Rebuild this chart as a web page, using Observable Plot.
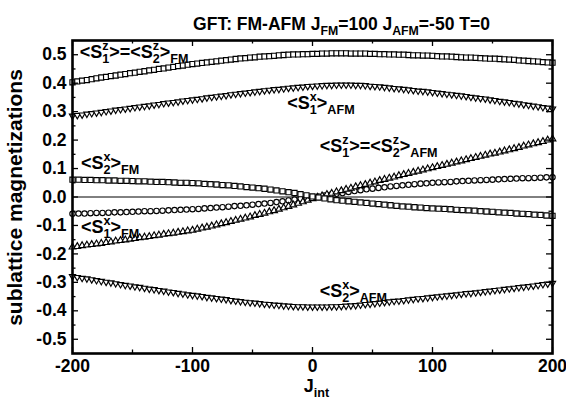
<!DOCTYPE html>
<html><head><meta charset="utf-8">
<script src="https://cdn.jsdelivr.net/npm/d3@7"></script>
<script src="https://cdn.jsdelivr.net/npm/@observablehq/plot@0.6"></script>
<style>body{margin:0;background:#fff}</style>
</head><body><div id="chart"></div>
<script>
// x grids (J_int)
const jDense = d3.range(-200, 201, 4);
const jSparse = d3.range(-200, 201, 5);

// <S1z>=<S2z>_FM (squares, top)
const szFM = [
0.403,0.406,0.409,0.411,0.414,0.417,0.420,0.422,0.425,0.427,
0.430,0.432,0.435,0.437,0.440,0.442,0.445,0.447,0.450,0.452,
0.455,0.457,0.460,0.462,0.465,0.467,0.469,0.471,0.473,0.475,
0.477,0.479,0.481,0.483,0.485,0.487,0.488,0.490,0.491,0.493,
0.494,0.495,0.496,0.498,0.499,0.500,0.501,0.501,0.502,0.502,
0.503,0.503,0.504,0.504,0.505,0.505,0.505,0.505,0.504,0.504,
0.504,0.504,0.503,0.503,0.502,0.502,0.501,0.501,0.500,0.500,
0.499,0.498,0.498,0.497,0.497,0.496,0.495,0.494,0.494,0.493,
0.492,0.491,0.490,0.490,0.489,0.488,0.487,0.486,0.486,0.485,
0.484,0.483,0.482,0.480,0.479,0.478,0.477,0.476,0.474,0.473,
0.472];
// <S1x>_AFM (triangles down, top)
const s1xAFM = [
.285,.287,.289,.292,.294,.296,.298,.301,.303,.306,
.308,.310,.312,.315,.317,.319,.321,.324,.326,.329,
.331,.333,.335,.338,.340,.342,.344,.346,.349,.351,
.353,.355,.357,.360,.362,.364,.366,.368,.370,.372,
.374,.376,.378,.379,.381,.383,.384,.386,.387,.389,
.390,.391,.392,.393,.393,.394,.394,.394,.394,.393,
.393,.392,.390,.389,.388,.386,.384,.382,.381,.379,
.377,.375,.373,.372,.370,.368,.366,.364,.362,.360,
.358,.356,.354,.351,.349,.347,.345,.342,.340,.337,
.335,.333,.330,.328,.325,.323,.320,.318,.315,.313,
.310];
// <S2x>_AFM (triangles down, bottom)
const s2xAFM = [
-.279,-.282,-.285,-.287,-.290,-.293,-.296,-.299,-.301,-.304,
-.307,-.310,-.312,-.315,-.317,-.320,-.323,-.325,-.328,-.330,
-.333,-.335,-.338,-.340,-.343,-.345,-.347,-.349,-.352,-.354,
-.356,-.358,-.360,-.363,-.365,-.367,-.369,-.371,-.372,-.374,
-.376,-.377,-.379,-.380,-.382,-.383,-.384,-.385,-.385,-.386,
-.386,-.386,-.386,-.386,-.385,-.385,-.384,-.383,-.382,-.381,
-.379,-.377,-.376,-.374,-.372,-.370,-.368,-.366,-.365,-.363,
-.361,-.359,-.357,-.356,-.354,-.352,-.350,-.348,-.347,-.345,
-.343,-.341,-.339,-.338,-.336,-.334,-.332,-.330,-.328,-.326,
-.324,-.322,-.320,-.318,-.316,-.314,-.312,-.310,-.307,-.305,
-.303];
// triangles up (<S1x>_FM / <S1z>=<S2z>_AFM)
const triUp = [
-.176,-.174,-.171,-.169,-.167,-.165,-.163,-.160,-.158,-.155,
-.153,-.151,-.148,-.146,-.143,-.141,-.139,-.136,-.134,-.131,
-.129,-.127,-.124,-.122,-.119,-.117,-.113,-.109,-.106,-.102,
-.098,-.094,-.090,-.086,-.082,-.078,-.074,-.070,-.065,-.061,
-.057,-.052,-.048,-.043,-.038,-.033,-.028,-.022,-.017,-.011,
-.006,-.001,.004,.009,.013,.018,.022,.027,.031,.036,
.040,.044,.049,.053,.058,.062,.066,.070,.075,.079,
.083,.087,.091,.095,.099,.103,.107,.111,.115,.119,
.123,.127,.131,.135,.139,.143,.147,.151,.154,.158,
.162,.166,.170,.174,.179,.183,.187,.191,.195,.200,
.204];
// circles (middle)
const circ = [
-.059,-.058,-.058,-.057,-.056,-.056,-.055,-.054,-.054,-.053,
-.052,-.051,-.050,-.050,-.049,-.048,-.047,-.046,-.045,-.044,
-.043,-.042,-.040,-.039,-.037,-.036,-.034,-.032,-.031,-.029,
-.027,-.025,-.023,-.021,-.018,-.015,-.012,-.009,-.007,-.004,
-.002,.002,.005,.008,.011,.014,.018,.021,.024,.027,
.029,.032,.034,.037,.039,.041,.043,.045,.047,.048,
.050,.051,.052,.053,.055,.056,.057,.058,.059,.060,
.061,.062,.063,.064,.065,.066,.066,.067,.068,.069,
.069];
// <S2x>_FM (squares, middle)
const s2xFM = [
.061,.061,.060,.060,.059,.059,.058,.058,.057,.057,
.056,.055,.055,.054,.053,.053,.052,.051,.050,.050,
.049,.048,.046,.045,.044,.042,.041,.039,.037,.035,
.033,.031,.029,.026,.023,.020,.017,.014,.010,.006,
.002,-.002,-.005,-.008,-.011,-.013,-.015,-.017,-.019,-.021,
-.023,-.025,-.027,-.029,-.031,-.033,-.034,-.036,-.037,-.039,
-.040,-.041,-.042,-.043,-.045,-.046,-.047,-.048,-.050,-.051,
-.052,-.054,-.055,-.056,-.058,-.059,-.060,-.062,-.063,-.065,
-.066];

// annotations
const labelText = [
  "<S^{z}_{1}>=<S^{z}_{2}>_{FM}",
  "<S^{x}_{1}>_{AFM}",
  "<S^{z}_{1}>=<S^{z}_{2}>_{AFM}",
  "<S^{x}_{2}>_{FM}",
  "<S^{x}_{1}>_{FM}",
  "<S^{x}_{2}>_{AFM}"
];
const labelJ = [-194, -21, 6, -193, -193, 6];
const labelV = [0.51, 0.33, 0.18, 0.12, -0.105, -0.33];

const titleText = "GFT: FM-AFM J_{FM}=100 J_{AFM}=-50 T=0";
const xLabel = "J_{int}";
const yLabel = "sublattice magnetizations";

const xTicks = [-200, -100, 0, 100, 200];
const xMinor = [-150, -50, 50, 150];
const yTicks = [-0.5, -0.4, -0.3, -0.2, -0.1, 0, 0.1, 0.2, 0.3, 0.4, 0.5];
const yMinor = [-0.45, -0.35, -0.25, -0.15, -0.05, 0.05, 0.15, 0.25, 0.35, 0.45];

const W = 566, H = 403, ML = 72, MR = 14, MT = 40, MB = 50;
const FW = W - ML - MR, FH = H - MT - MB;

const tbl = (xs, ys) => xs.map((x, i) => ({x, y: ys[i]}));
const labels = labelText.map((t, i) => ({t, x: labelJ[i], y: labelV[i]}));

const triDown = {
  draw(ctx, size) {
    const y = -Math.sqrt(size / (Math.sqrt(3) * 3));
    ctx.moveTo(0, -2 * y);
    ctx.lineTo(-Math.sqrt(3) * y, y);
    ctx.lineTo(Math.sqrt(3) * y, y);
    ctx.closePath();
  }
};
const dotOpts = {x: "x", y: "y", stroke: "#000", fill: "#fff", strokeWidth: 1.15};

const chart = Plot.plot({
  width: W, height: H, marginLeft: ML, marginRight: MR, marginTop: MT, marginBottom: MB,
  style: {fontFamily: "'Liberation Sans', Arial, Helvetica, sans-serif", fontSize: "17px", fontWeight: "bold", background: "#fff", color: "#000"},
  x: {domain: [-200, 200]},
  y: {domain: [-0.55, 0.55]},
  marks: [
    Plot.ruleY([0], {stroke: "#000", strokeWidth: 1}),
    Plot.dot(tbl(jDense, szFM), {...dotOpts, symbol: "square", r: 2.9}),
    Plot.dot(tbl(jDense, s1xAFM), {...dotOpts, symbol: triDown, r: 2.3}),
    Plot.dot(tbl(jDense, s2xAFM), {...dotOpts, symbol: triDown, r: 2.3}),
    Plot.dot(tbl(jSparse, circ), {...dotOpts, symbol: "circle", r: 2.7}),
    Plot.dot(tbl(jDense, triUp), {...dotOpts, symbol: "triangle", r: 2.5}),
    Plot.dot(tbl(jSparse, s2xFM), {...dotOpts, symbol: "square", r: 2.9}),
    // inward ticks
    Plot.ruleX(xTicks, {x: d => d, insetTop: FH - 6, stroke: "#000", strokeWidth: 1.3}),
    Plot.ruleX(xTicks, {x: d => d, insetBottom: FH - 6, stroke: "#000", strokeWidth: 1.3}),
    Plot.ruleX(xMinor, {x: d => d, insetTop: FH - 3.5, stroke: "#000", strokeWidth: 1.3}),
    Plot.ruleX(xMinor, {x: d => d, insetBottom: FH - 3.5, stroke: "#000", strokeWidth: 1.3}),
    Plot.ruleY(yTicks, {y: d => d, insetRight: FW - 6, stroke: "#000", strokeWidth: 1.3}),
    Plot.ruleY(yTicks, {y: d => d, insetLeft: FW - 6, stroke: "#000", strokeWidth: 1.3}),
    Plot.ruleY(yMinor, {y: d => d, insetRight: FW - 3.5, stroke: "#000", strokeWidth: 1.3}),
    Plot.ruleY(yMinor, {y: d => d, insetLeft: FW - 3.5, stroke: "#000", strokeWidth: 1.3}),
    Plot.axisX(xTicks, {tickSize: 0, tickPadding: 6, tickFormat: d => String(d), label: null, fontSize: 17.5, fontWeight: "bold"}),
    Plot.axisY(yTicks, {tickSize: 0, tickPadding: 6, tickFormat: d => d.toFixed(1), label: null, fontSize: 17.5, fontWeight: "bold"}),
    Plot.frame({stroke: "#000", strokeWidth: 2.6}),
    Plot.text(labels, {x: "x", y: "y", text: "t", textAnchor: "start", fontSize: 18, fontWeight: "bold", fill: "#000"}),
    Plot.text([titleText], {frameAnchor: "top", dy: -23, dx: 29, fontSize: 17.5, fontWeight: "bold", fill: "#000"}),
    Plot.text([xLabel], {frameAnchor: "bottom", dy: 38, dx: 4, fontSize: 18, fontWeight: "bold", fill: "#000"}),
    Plot.text([yLabel], {frameAnchor: "left", fontSize: 21, fontWeight: "bold", fill: "#000"})
  ]
});
document.getElementById("chart").appendChild(chart);

// rich text: ^{sup}, _{sub}, ^{sup}_{sub} stacked
const NS = "http://www.w3.org/2000/svg";
function rich(el) {
  const s = el.textContent;
  if (s === yLabel) {
    el.removeAttribute("x"); el.removeAttribute("y"); el.removeAttribute("dy");
    el.setAttribute("transform", "translate(21,197) rotate(-90)");
    el.setAttribute("text-anchor", "middle");
    return;
  }
  if (!/[_^]\{/.test(s)) return;
  const fs = parseFloat(getComputedStyle(el).fontSize) || 16;
  const small = (fs * 0.7).toFixed(1);
  const supOff = -0.42 * fs, subOff = 0.28 * fs;
  while (el.firstChild) el.removeChild(el.firstChild);
  const add = (txt, size, dy, dx) => {
    const t = document.createElementNS(NS, "tspan");
    if (size) t.setAttribute("font-size", size);
    if (dy) t.setAttribute("dy", dy.toFixed(2));
    if (dx) t.setAttribute("dx", dx.toFixed(2));
    t.textContent = txt;
    el.appendChild(t);
    return t;
  };
  const re = /\^\{([^}]*)\}_\{([^}]*)\}|_\{([^}]*)\}|\^\{([^}]*)\}|([^_^]+)/g;
  let shift = 0, m;
  while ((m = re.exec(s))) {
    if (m[1] !== undefined) {
      const a = add(m[1], small, supOff - shift);
      const w = a.getComputedTextLength();
      add(m[2], small, subOff - supOff, -w);
      shift = subOff;
    } else if (m[3] !== undefined) {
      add(m[3], small, subOff - shift); shift = subOff;
    } else if (m[4] !== undefined) {
      add(m[4], small, supOff - shift); shift = supOff;
    } else {
      add(m[5], null, -shift); shift = 0;
    }
  }
}
chart.querySelectorAll("text").forEach(rich);
</script>
</body></html>
